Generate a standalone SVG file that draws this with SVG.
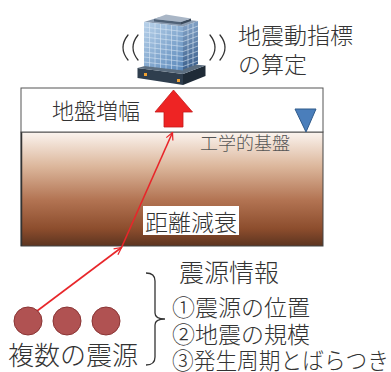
<svg xmlns="http://www.w3.org/2000/svg" width="391" height="372" viewBox="0 0 391 372">
  <style>
    .t { font-family: "Noto Sans CJK JP", "Noto Sans", sans-serif; font-weight: 300; fill: #333; }
    .shake { fill: none; stroke: #333; stroke-width: 1.3; stroke-linecap: round; }
    .ray { fill: none; stroke: #e8262a; stroke-width: 1.6; }
    .grid { stroke: #e8f2fb; stroke-width: 0.6; opacity: 0.8; }
    .src { fill: #b05252; stroke: #8a3434; stroke-width: 1; }
  </style>
  <defs>
    <linearGradient id="soil" x1="0" y1="0" x2="0" y2="1">
      <stop offset="0" stop-color="#fbf4ef"/>
      <stop offset="0.3" stop-color="#dcb79c"/>
      <stop offset="0.6" stop-color="#b27352"/>
      <stop offset="0.85" stop-color="#8c4d2d"/>
      <stop offset="1" stop-color="#5c3420"/>
    </linearGradient>
    <linearGradient id="faceL" x1="0" y1="0" x2="1" y2="1">
      <stop offset="0" stop-color="#b9d2ea"/>
      <stop offset="1" stop-color="#5a88ba"/>
    </linearGradient>
    <linearGradient id="faceR" x1="0" y1="0" x2="0" y2="1">
      <stop offset="0" stop-color="#7f9fc4"/>
      <stop offset="1" stop-color="#3f6390"/>
    </linearGradient>
    <marker id="ah" viewBox="0 0 10 10" refX="9" refY="5" markerWidth="9" markerHeight="9" orient="auto" markerUnits="userSpaceOnUse">
      <path d="M1,1 L9,5 L1,9" fill="none" stroke="#e8262a" stroke-width="1.4"/>
    </marker>
  </defs>

  <rect width="391" height="372" fill="#fff"/>

  <!-- ground layers -->
  <g id="soil-layer">
    <rect x="21" y="132" width="302" height="114" fill="url(#soil)" stroke="#444" stroke-width="1"/>
    <line x1="21.5" y1="132" x2="21.5" y2="246" stroke="#333" stroke-width="1.5"/>
  </g>
  <g id="surface-layer">
    <rect x="21" y="88" width="302" height="44" fill="#fff" stroke="#555" stroke-width="1"/>
    <text class="t" x="52" y="119" font-size="22">地盤増幅</text>
  </g>
  <g id="bedrock-label">
    <text class="t" x="200" y="150" font-size="18" style="fill:#555">工学的基盤</text>
    <polygon points="295,109 316,109 306,132" fill="#4a7ebb" stroke="#2f5a8a" stroke-width="1"/>
  </g>

  <!-- amplification arrow -->
  <g id="amp-arrow">
    <polygon points="173.5,90 192.5,112 183,112 183,127 164,127 164,112 155,112" fill="#ee2424" stroke="#c41a1a" stroke-width="0.8"/>
  </g>

  <!-- building with shaking marks -->
  <g id="building">
    <path class="shake" d="M128,35 Q118,47.5 128,60"/>
    <path class="shake" d="M138,35 Q128,47.5 138,60"/>
    <path class="shake" d="M210,35 Q220,47.5 210,60"/>
    <path class="shake" d="M220,35 Q230,47.5 220,60"/>
    <!-- base platform -->
    <polygon points="137.5,68 183,74 183,85 137.5,78" fill="#2f3e4e"/>
    <polygon points="183,74 205.5,65.5 205.5,76 183,85" fill="#1f2b37"/>
    <polygon points="137.5,68 161.5,61.5 205.5,65.5 183,74" fill="#5c6e80"/>
    <rect x="144" y="73" width="3" height="3" fill="#f0a030"/>
    <rect x="177" y="79" width="3" height="3" fill="#f0a030"/>
    <!-- tower body -->
    <polygon points="144,22 183,26.5 198,21 160,17" fill="#8c9db2"/>
    <g transform="matrix(1,0.115,0,1,144,22)">
      <rect x="0" y="0" width="39" height="44" fill="url(#faceL)"/>
      <g class="grid">
        <line x1="5.5" y1="0" x2="5.5" y2="44"/><line x1="11" y1="0" x2="11" y2="44"/>
        <line x1="16.5" y1="0" x2="16.5" y2="44"/><line x1="22" y1="0" x2="22" y2="44"/>
        <line x1="27.5" y1="0" x2="27.5" y2="44"/><line x1="33" y1="0" x2="33" y2="44"/>
        <line x1="0" y1="5" x2="39" y2="5"/><line x1="0" y1="10" x2="39" y2="10"/>
        <line x1="0" y1="15" x2="39" y2="15"/><line x1="0" y1="20" x2="39" y2="20"/>
        <line x1="0" y1="25" x2="39" y2="25"/><line x1="0" y1="30" x2="39" y2="30"/>
        <line x1="0" y1="35" x2="39" y2="35"/><line x1="0" y1="40" x2="39" y2="40"/>
      </g>
    </g>
    <g transform="matrix(1,-0.367,0,1,183,26.5)">
      <rect x="0" y="0" width="15" height="43" fill="url(#faceR)"/>
      <g class="grid" opacity="0.5">
        <line x1="5" y1="0" x2="5" y2="43"/><line x1="10" y1="0" x2="10" y2="43"/>
        <line x1="0" y1="5" x2="15" y2="5"/><line x1="0" y1="10" x2="15" y2="10"/>
        <line x1="0" y1="15" x2="15" y2="15"/><line x1="0" y1="20" x2="15" y2="20"/>
        <line x1="0" y1="25" x2="15" y2="25"/><line x1="0" y1="30" x2="15" y2="30"/>
        <line x1="0" y1="35" x2="15" y2="35"/><line x1="0" y1="40" x2="15" y2="40"/>
      </g>
    </g>
    <!-- rooftop penthouse -->
    <polygon points="154,19 181,22 181,24.5 154,21.5" fill="#4f6176"/>
    <polygon points="181,22 191,18.5 191,21 181,24.5" fill="#3a4a5c"/>
    <polygon points="154,19 166,14.5 191,18.5 181,22" fill="#a9b6c6"/>
  </g>
  <g id="index-label">
    <text class="t" x="238" y="44" font-size="23">地震動指標</text>
    <text class="t" x="238" y="73" font-size="23">の算定</text>
  </g>

  <!-- wave path from source to site -->
  <g id="connectors">
    <line class="ray" x1="37" y1="311" x2="121.5" y2="247.5" marker-end="url(#ah)"/>
    <line class="ray" x1="121.5" y1="247.5" x2="172.5" y2="132.5" marker-end="url(#ah)"/>
    <path d="M146,273 Q155,273 155,281 V313 Q155,319 165,319 Q155,319 155,325 V357 Q155,365 146,365" fill="none" stroke="#333" stroke-width="1.3"/>
  </g>

  <g id="attenuation-label">
    <rect x="143" y="206" width="96" height="29" fill="#fff"/>
    <text class="t" x="145" y="231" font-size="23">距離減衰</text>
  </g>

  <g id="sources">
    <circle class="src" cx="28" cy="321" r="14"/>
    <circle class="src" cx="67" cy="321" r="14"/>
    <circle class="src" cx="106" cy="321" r="14"/>
    <text class="t" x="8" y="365" font-size="26">複数の震源</text>
  </g>

  <g id="source-info">
    <text class="t" x="179" y="282" font-size="25">震源情報</text>
    <text class="t" x="172" y="316" font-size="23">①震源の位置</text>
    <text class="t" x="172" y="343" font-size="23">②地震の規模</text>
    <text class="t" x="172" y="369" font-size="23" textLength="217" lengthAdjust="spacingAndGlyphs">③発生周期とばらつき</text>
  </g>
</svg>
